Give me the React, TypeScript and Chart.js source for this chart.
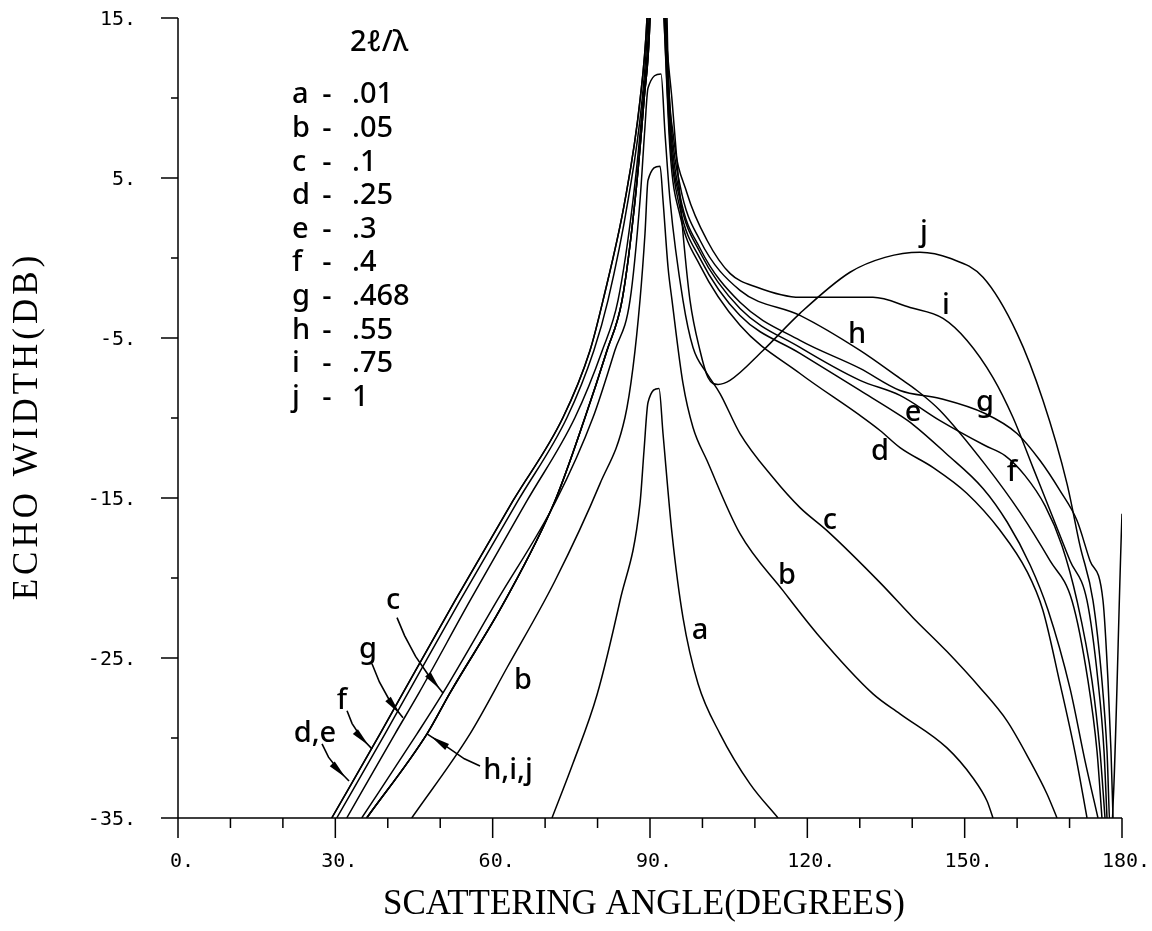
import React, { useEffect, useRef } from "react";
import { Chart, registerables } from "chart.js";

Chart.register(...registerables);

type Pt = [number, number];

// ---------- axes ----------
const xMajorTicks = [0, 30, 60, 90, 120, 150, 180];
const xMinorTicks = [10, 20, 40, 50, 70, 80, 100, 110, 130, 140, 160, 170];
const yMajorTicks = [15, 5, -5, -15, -25, -35];
const yMinorTicks = [10, 0, -10, -20, -30];
const xTitle = "SCATTERING ANGLE(DEGREES)";
const yTitle = "ECHO WIDTH(DB)";

// ---------- legend ----------
const legendTitle = "2ℓ/λ";
const legendKeys = ["a", "b", "c", "d", "e", "f", "g", "h", "i", "j"];
const legendValues = [".01", ".05", ".1", ".25", ".3", ".4", ".468", ".55", ".75", "1"];

// ---------- series (angle in degrees, echo width in dB) ----------
const curveA: Pt[] = [
  [71.31, -35], [75.3, -31.6], [79.9, -27.3], [84.28, -21.42], [88.09, -15.35], [88.86, -12.03],
  [89.62, -9.03], [91.72, -8.15], [92.48, -10.97], [94.2, -17.23], [96.29, -22.48], [99.16, -26.61],
  [103.35, -29.74], [109.07, -32.87], [114.41, -35],
];

const curveB: Pt[] = [
  [44.56, -35], [55.68, -29.74], [62.73, -25.61], [71.89, -20.17], [80.47, -14.1], [85.23, -9.97],
  [86.76, -6.84], [88.09, -2.65], [89.05, 1.55], [89.62, 4.86], [91.91, 5.74], [92.48, 3.61],
  [93.44, -0.58], [94.2, -2.65], [96.29, -7.84], [98.2, -10.59], [100.87, -12.66], [107.16, -17.23],
  [115.36, -20.79], [121.85, -23.48], [132.52, -27.24], [137.67, -28.49], [146.63, -30.62],
  [151.59, -32.5], [154.26, -33.94], [155.4, -35],
];

const curveC: Pt[] = [
  [35.03, -35], [45.57, -29.74], [50.53, -27.18], [60.83, -21.42], [72.08, -15.17], [79.13, -9.97],
  [83.3, -5.78], [86.19, -2.65], [88.1, 3.61], [89.0, 8.0], [89.62, 10.62], [92.1, 11.5],
  [92.86, 7.8], [93.82, 3.61], [96.29, -2.65], [98.2, -5.59], [100.87, -7.22], [103.35, -8.47],
  [107.16, -10.97], [113.45, -13.72], [118.6, -15.6], [123.75, -17.04], [133.86, -20.29],
  [140.15, -22.48], [146.63, -24.6], [152.93, -26.86], [158.07, -28.93], [162.46, -31.43],
  [165.7, -33.5], [167.61, -35],
];

const leftDE: Pt[] = [
  [29.31, -35], [38.52, -29.74], [42.9, -27.18], [52.82, -21.42], [63.88, -15.17], [73.41, -9.97],
  [78.56, -5.78], [81.04, -2.65], [85.24, 3.61], [88.1, 9.87], [89.43, 15], [90.2, 22],
];
const leftF: Pt[] = [
  [30.26, -35], [39.47, -29.74], [43.86, -27.18], [53.77, -21.42], [64.83, -15.17], [74.18, -9.97],
  [79.3, -5.78], [81.99, -2.65], [85.82, 3.61], [88.48, 9.87], [89.62, 15], [90.3, 22],
];
const leftG: Pt[] = [
  [32.17, -35], [41.38, -29.74], [45.95, -27.18], [55.68, -21.42], [66.55, -15.17], [75.7, -9.97],
  [80.9, -5.78], [83.9, -2.65], [86.76, 3.61], [88.67, 9.87], [89.81, 15], [90.4, 22],
];
const leftHIJ: Pt[] = [
  [35.98, -35], [47.48, -29.74], [51.87, -27.18], [62.35, -21.42], [71.89, -15.17], [77.61, -9.97],
  [81.8, -5.78], [84.67, -2.65], [87.15, 3.61], [88.86, 9.87], [90.0, 15], [90.5, 22],
];

const rightD: Pt[] = [
  [91.5, 24], [92.67, 15], [93.82, 6.74], [95.72, 2.67], [99.53, -0.46], [107.16, -4.21],
  [118.6, -7.22], [130.04, -9.84], [133.86, -10.78], [137.67, -11.85], [144.0, -13.1],
  [150.4, -14.7], [156.7, -17.0], [161.9, -19.6], [164.9, -22.0], [168.18, -26.6],
  [171.04, -30.9], [173.33, -35],
];
const rightE: Pt[] = [
  [91.5, 24], [92.67, 15], [93.82, 7.37], [95.72, 3.11], [99.53, -0.02], [107.16, -3.59],
  [118.6, -5.96], [130.04, -8.28], [137.67, -9.84], [140.15, -10.41], [146.4, -12.2],
  [153.5, -14.4], [158.1, -16.5], [162.5, -19.2], [165.89, -22.0], [170.09, -26.9],
  [172.95, -31.43], [175.42, -35],
];
const rightF: Pt[] = [
  [91.6, 24], [92.86, 15], [93.82, 8.0], [95.72, 3.61], [99.53, 0.36], [107.16, -3.15],
  [118.6, -5.59], [130.04, -7.65], [137.67, -8.59], [145.3, -10.16], [153.88, -11.72],
  [157.69, -12.35], [161.51, -13.6], [165.32, -15.48], [168.56, -17.98], [171.42, -21.42],
  [174.28, -26.43], [175.8, -30.81], [176.76, -35],
];
const rightG: Pt[] = [
  [91.7, 24], [92.96, 15], [93.82, 8.62], [95.72, 3.92], [99.53, 0.61], [107.16, -2.77],
  [118.6, -5.15], [130.04, -6.9], [137.67, -8.28], [145.3, -8.78], [153.88, -9.72],
  [159.98, -10.97], [164.37, -12.66], [168.18, -14.54], [171.42, -16.41], [173.9, -18.92],
  [176.38, -21.42], [177.33, -26.43], [177.9, -30.81], [178.29, -35],
];
const rightH: Pt[] = [
  [91.8, 24], [93.05, 15], [93.82, 9.24], [95.72, 4.55], [99.53, 1.11], [107.16, -2.02],
  [118.6, -3.59], [130.04, -5.78], [137.67, -7.53], [140.9, -8.28], [145.3, -9.53],
  [153.88, -12.9], [160.55, -15.9], [166.27, -18.92], [170.47, -21.42], [173.52, -26.43],
  [175.23, -30.81], [176.18, -35],
];
const rightI: Pt[] = [
  [91.9, 24], [93.25, 15], [93.44, 11.93], [94.39, 7.8], [97.06, 4.05], [100.87, 1.11],
  [105.25, -0.96], [110.4, -1.83], [118.6, -2.46], [132.52, -2.46], [139.58, -3.09],
  [145.87, -3.77], [150.45, -5.15], [155.4, -7.47], [159.22, -9.97], [163.03, -13.1],
  [166.84, -16.23], [170.09, -18.92], [173.33, -21.42], [175.42, -26.43], [176.57, -30.81],
  [177.14, -35],
];
const rightJ: Pt[] = [
  [91.8, 24], [92.86, 15], [94.2, 9.87], [96.29, 1.55], [97.63, -2.65], [99.53, -5.78],
  [101.06, -7.47], [102.97, -7.9], [105.25, -7.65], [111.55, -5.78], [118.6, -3.46],
  [128.14, -0.89], [134.81, 0.04], [141.48, 0.36], [147.21, -0.02], [153.5, -1.21],
  [159.98, -4.71], [164.94, -8.91], [169.51, -14.1], [171.99, -17.98], [174.47, -21.42],
  [176.18, -26.43], [177.14, -30.81], [177.8, -36.0], [180, -15.98],
];

const curveD: Pt[] = [...leftDE, ...rightD];
const curveE: Pt[] = [...leftDE, ...rightE];
const curveF: Pt[] = [...leftF, ...rightF];
const curveG: Pt[] = [...leftG, ...rightG];
const curveH: Pt[] = [...leftHIJ, ...rightH];
const curveI: Pt[] = [...leftHIJ, ...rightI];
const curveJ: Pt[] = [...leftHIJ, ...rightJ];

const allCurves = [curveA, curveB, curveC, curveD, curveE, curveF, curveG, curveH, curveI, curveJ];

// ---------- in-plot annotations (data coordinates) ----------
const curveTags = [
  { t: "j", x: 142.25, y: 1.61 },
  { t: "i", x: 146.44, y: -2.96 },
  { t: "h", x: 129.47, y: -4.77 },
  { t: "g", x: 153.88, y: -9.03 },
  { t: "e", x: 140.15, y: -9.66 },
  { t: "d", x: 133.86, y: -12.1 },
  { t: "f", x: 159.03, y: -13.41 },
  { t: "c", x: 124.32, y: -16.41 },
  { t: "b", x: 116.12, y: -19.86 },
  { t: "a", x: 99.53, y: -23.3 },
  { t: "b", x: 65.78, y: -26.43 },
];

const arrowTags = [
  { t: "c", x: 41.0, y: -21.42, path: [[41.76, -22.48], [43.2, -23.6], [45.3, -24.9], [47.6, -26.0], [50.53, -27.18]] },
  { t: "g", x: 36.23, y: -24.49, path: [[36.99, -25.36], [38.4, -26.5], [40.5, -27.75], [42.9, -28.74]] },
  { t: "f", x: 31.27, y: -27.68, path: [[32.23, -28.3], [33.2, -29.1], [35.0, -30.0], [36.99, -30.68]] },
  { t: "d,e", x: 26.12, y: -29.74, path: [[27.46, -30.37], [28.7, -31.2], [30.7, -32.05], [32.61, -32.69]] },
  { t: "h,i,j", x: 62.92, y: -32.06, path: [[57.59, -31.75], [54.6, -31.3], [51.5, -30.6], [47.48, -29.74]] },
];

const legendAnchor = { x: 21.74, y: 10.18 };
const legendTitleAnchor = { x: 32.8, y: 13.44 };
const LEGEND_ROW_STEP = 33.6;

const LABEL_FONT = '500 29px "Noto Sans", "DejaVu Sans", sans-serif';
const TICK_FONT = '20px "DejaVu Sans Mono", monospace';
const TITLE_FONT = '35px "Liberation Serif", serif';

const decorPlugin = {
  id: "decor",
  afterDraw(chart: any) {
    const { ctx, scales } = chart;
    const xs = scales.x;
    const ys = scales.y;
    const px = (v: number) => xs.getPixelForValue(v);
    const py = (v: number) => ys.getPixelForValue(v);
    const left = px(0);
    const right = px(180);
    const top = py(15);
    const bottom = py(-35);

    ctx.save();
    ctx.strokeStyle = "#000";
    ctx.fillStyle = "#000";
    ctx.lineWidth = 1.5;
    ctx.beginPath();
    ctx.moveTo(left, top);
    ctx.lineTo(left, bottom);
    ctx.moveTo(left - 17, bottom);
    ctx.lineTo(right, bottom);
    yMajorTicks.forEach((v) => {
      ctx.moveTo(left - 17, py(v));
      ctx.lineTo(left, py(v));
    });
    yMinorTicks.forEach((v) => {
      ctx.moveTo(left - 7, py(v));
      ctx.lineTo(left, py(v));
    });
    xMajorTicks.forEach((v) => {
      ctx.moveTo(px(v), bottom);
      ctx.lineTo(px(v), bottom + 20);
    });
    xMinorTicks.forEach((v) => {
      ctx.moveTo(px(v), bottom);
      ctx.lineTo(px(v), bottom + 10);
    });
    ctx.stroke();

    // tick labels
    ctx.font = TICK_FONT;
    ctx.textBaseline = "middle";
    ctx.textAlign = "right";
    yMajorTicks.forEach((v) => ctx.fillText(`${v}.`, left - 42, py(v) + 2));
    ctx.textAlign = "center";
    xMajorTicks.forEach((v) => ctx.fillText(`${v}.`, px(v) + 4, bottom + 44));

    // axis titles
    ctx.font = TITLE_FONT;
    ctx.textAlign = "center";
    ctx.fillText(xTitle, (left + right) / 2 - 6, bottom + 87);
    ctx.save();
    ctx.translate(28, (top + bottom) / 2 + 8);
    ctx.rotate(-Math.PI / 2);
    try {
      (ctx as any).letterSpacing = "4px";
    } catch (e) {
      /* ignore */
    }
    ctx.fillText(yTitle, 0, 0);
    ctx.restore();

    // legend
    ctx.font = LABEL_FONT;
    ctx.textBaseline = "middle";
    ctx.textAlign = "left";
    ctx.fillText(legendTitle, px(legendTitleAnchor.x), py(legendTitleAnchor.y));
    const lx = px(legendAnchor.x);
    const ly = py(legendAnchor.y);
    legendKeys.forEach((k, i) => {
      const y = ly + i * LEGEND_ROW_STEP;
      ctx.textAlign = "left";
      ctx.fillText(k, lx, y);
      ctx.textAlign = "center";
      ctx.fillText("-", lx + 35, y);
      ctx.textAlign = "left";
      ctx.fillText(legendValues[i], lx + 60, y);
    });

    // curve labels
    ctx.textAlign = "center";
    curveTags.forEach((c) => ctx.fillText(c.t, px(c.x), py(c.y)));

    // arrows
    ctx.lineWidth = 1.6;
    arrowTags.forEach((a) => {
      ctx.fillText(a.t, px(a.x), py(a.y));
      const pts = a.path.map((p) => [px(p[0]), py(p[1])]);
      ctx.beginPath();
      ctx.moveTo(pts[0][0], pts[0][1]);
      for (let k = 1; k < pts.length; k++) ctx.lineTo(pts[k][0], pts[k][1]);
      ctx.stroke();
      const [tx, ty] = pts[pts.length - 1];
      const [bx, by] = pts[pts.length - 2];
      const len = Math.hypot(tx - bx, ty - by) || 1;
      const ux = (tx - bx) / len;
      const uy = (ty - by) / len;
      const ax = tx - ux * 5;
      const ay = ty - uy * 5;
      const cx = tx - ux * 24;
      const cy = ty - uy * 24;
      ctx.beginPath();
      ctx.moveTo(ax, ay);
      ctx.lineTo(cx - uy * 3.5, cy + ux * 3.5);
      ctx.lineTo(cx + uy * 3.5, cy - ux * 3.5);
      ctx.closePath();
      ctx.fill();
    });
    ctx.restore();
  },
};

export default function App() {
  const ref = useRef<HTMLCanvasElement | null>(null);
  useEffect(() => {
    if (!ref.current) return;
    const chart = new Chart(ref.current, {
      type: "scatter",
      data: {
        datasets: allCurves.map((pts, i) => ({
          label: legendKeys[i],
          data: pts.map(([x, y]) => ({ x, y })),
          showLine: true,
          borderColor: "#000",
          backgroundColor: "#000",
          borderWidth: 1.5,
          pointRadius: 0,
          pointHoverRadius: 0,
          fill: false,
          cubicInterpolationMode: "monotone",
          clip: 0,
        })),
      },
      options: {
        animation: false,
        responsive: false,
        events: [],
        layout: { padding: { top: 18, right: 30, left: 178, bottom: 113 } },
        plugins: { legend: { display: false }, tooltip: { enabled: false } },
        scales: {
          x: { type: "linear", min: 0, max: 180, display: false },
          y: { type: "linear", min: -35, max: 15, display: false },
        },
      },
      plugins: [decorPlugin],
    } as any);
    return () => chart.destroy();
  }, []);
  return (
    <div style={{ position: "fixed", left: 0, top: 0, width: 1152, height: 931, background: "#fff" }}>
      <canvas ref={ref} width={1152} height={931} style={{ display: "block" }} />
    </div>
  );
}
